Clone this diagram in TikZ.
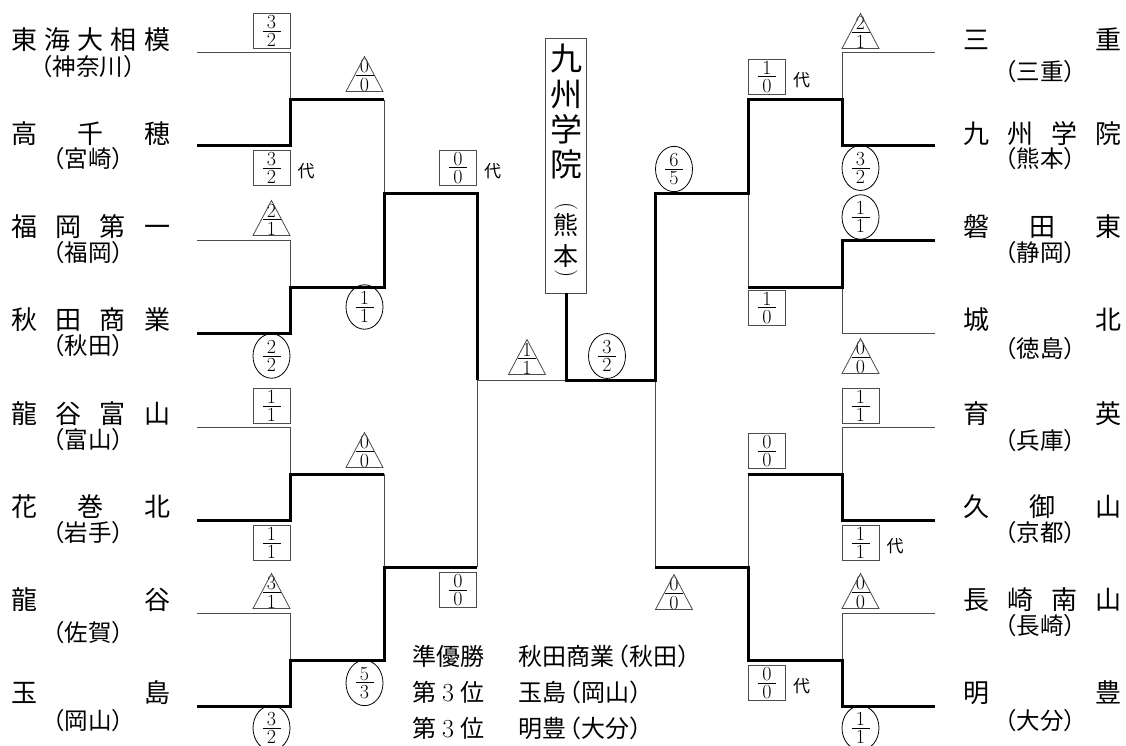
\documentclass[tikz,border=0pt]{standalone}
\usepackage{fontspec}
\usetikzlibrary{shapes.geometric}
\newfontfamily\cjk{Noto Sans CJK JP}
\definecolor{thinc}{gray}{0.3}
\newcommand\lp{\kern-9pt（}
\newcommand\rp{）\kern-9pt}
\newcommand\fracs[2]{\vbox{\hbox to 18pt{\hss#1\hss}\kern2pt\hrule height0.6pt\kern2.4pt\hbox to 18pt{\hss#2\hss}}}
\tikzset{
  thinl/.style={line width=1pt, draw=thinc},
  boldl/.style={line width=3pt, draw=black, line join=miter},
  fr/.style={font=\rmfamily\fontsize{20}{20}\selectfont, inner sep=0pt},
  sqb/.style={draw=thinc, line width=0.8pt, minimum width=37pt, minimum height=35pt, inner sep=0pt},
  cib/.style={draw=black, line width=0.8pt, ellipse, minimum width=37pt, minimum height=35pt, inner sep=0pt},
  daitext/.style={font=\cjk\fontsize{17}{17}\selectfont, inner sep=0pt},
  nm/.style={font=\cjk\fontsize{26}{26}\selectfont, inner sep=0pt, text height=22.9pt, text depth=3.1pt},
  pf/.style={font=\cjk\fontsize{23.5}{23.5}\selectfont, inner sep=0pt, text height=20.7pt, text depth=2.8pt},
  big/.style={font=\cjk\fontsize{32}{32}\selectfont, inner sep=0pt, text height=28.2pt, text depth=3.8pt},
  mid/.style={font=\cjk\fontsize{25}{25}\selectfont, inner sep=0pt, text height=22pt, text depth=3pt},
  vpar/.style={font=\rmfamily\fontsize{23}{23}\selectfont, inner sep=0pt, rotate=-90},
  sm/.style={font=\cjk\fontsize{24}{24}\selectfont, inner sep=0pt, text height=21.1pt, text depth=2.9pt},
}
\newcommand\sqlab[5]{\node[sqb,fr] (#1) at (#2,#3) {\fracs{#4}{#5}};}
\newcommand\cilab[5]{\node[cib,fr] (#1) at (#2,#3) {\fracs{#4}{#5}};}
\newcommand\trilab[5]{\node[fr] (#1) at (#2,#3+1.5) {\fracs{#4}{#5}};
  \draw[thinc,line width=0.8pt] (#2-18.5,#3+17.5) -- (#2,#3-17.5) -- (#2+18.5,#3+17.5) -- cycle;}
\newcommand\dai[1]{\node[daitext,anchor=west] (#1d) at ([xshift=7pt,yshift=-3pt]#1.east) {代};}
\newcommand\spread[5]{%
  \foreach \c [count=\i] in {#5} {\xdef\nch{\i}}%
  \foreach \c [count=\i] in {#5} {%
    \pgfmathsetmacro\xx{#2+(#3-#2)*(\i-1)/(\nch-1)}%
    \node[nm] (#1\i) at (\xx,#4) {\c};}%
}
\begin{document}
\begin{tikzpicture}[x=1pt,y=-1pt]
\fill[white] (0,0) rectangle (1126,746);
\useasboundingbox (0,0) rectangle (1126,746);

% coordinates
\foreach \k/\yy in {1/53,2/146,3/240,4/333,5/427,6/520,7/613,8/706} {
  \coordinate (LT\k) at (197,\yy);
  \coordinate (RT\k) at (935,\yy);
}
\coordinate (LA1) at (290,100);
\coordinate (LA2) at (290,287);
\coordinate (LA3) at (290,474);
\coordinate (LA4) at (290,660);
\coordinate (LB1) at (384,193);
\coordinate (LB2) at (384,567);
\coordinate (LC) at (477,380);
\coordinate (CF) at (566,380);
\coordinate (RC) at (655,380);
\coordinate (RB1) at (748,193);
\coordinate (RB2) at (748,567);
\coordinate (RA1) at (842,100);
\coordinate (RA2) at (842,287);
\coordinate (RA3) at (842,474);
\coordinate (RA4) at (842,660);

% champion box
\node[draw=thinc, line width=0.8pt, minimum width=41pt, minimum height=255pt, inner sep=0pt] (champ) at (566,165.5) {};
\node[big] (c1) at (566,58) {九};
\node[big] (c2) at (566,94) {州};
\node[big] (c3) at (566,129) {学};
\node[big] (c4) at (566,164) {院};
\node[vpar] (c5) at (566,207) {(};
\node[mid] (c6) at (566,225) {熊};
\node[mid] (c7) at (566,256) {本};
\node[vpar] (c8) at (566,274) {)};

% thin lines
\draw[thinl] (LT1) -| (LA1);
\draw[thinl] (LA1 -| LB1) -- (LB1);
\draw[thinl] (LT3) -| (LA2);
\draw[thinl] (LT5) -| (LA3);
\draw[thinl] (LA3 -| LB2) -- (LB2);
\draw[thinl] (LT7) -| (LA4);
\draw[thinl] (LB2 -| LC) -- (LC);
\draw[thinl] (LC) -- (CF);
\draw[thinl] (RA1) -- (RA1 |- RT1) -- (RT1);
\draw[thinl] (RB1) -- (RB1 |- RA2);
\draw[thinl] (RA2) -- (RA2 |- RT4) -- (RT4);
\draw[thinl] (RC) -- (RC |- RB2);
\draw[thinl] (RB2) -- (RB2 |- RA3);
\draw[thinl] (RA3) -- (RA3 |- RT5) -- (RT5);
\draw[thinl] (RA4) -- (RA4 |- RT7) -- (RT7);

% bold lines
\draw[boldl] (LT2) -| (LA1) -- (LA1 -| LB1);
\draw[boldl] (LT4) -| (LA2) -- (LA2 -| LB1) -- (LB1) -- (LB1 -| LC) -- (LC);
\draw[boldl] (LT6) -| (LA3) -- (LA3 -| LB2);
\draw[boldl] (LT8) -| (LA4) -- (LA4 -| LB2) -- (LB2) -- (LB2 -| LC);
\draw[boldl] (champ.south) -- (CF) -- (RC) -- (RC |- RB1) -- (RB1) -- (RB1 |- RA1) -- (RA1) -- (RA1 |- RT2) -- (RT2);
\draw[boldl] (RB1 |- RA2) -- (RA2) -- (RA2 |- RT3) -- (RT3);
\draw[boldl] (RC |- RB2) -- (RB2) -- (RB2 |- RA4) -- (RA4) -- (RA4 |- RT8) -- (RT8);
\draw[boldl] (RB2 |- RA3) -- (RA3) -- (RA3 |- RT6) -- (RT6);

% score labels left
\sqlab{s1}{271.5}{31}{3}{2}
\sqlab{s2}{271.5}{168}{3}{2}\dai{s2}
\trilab{s3}{364.5}{74}{0}{0}
\sqlab{s4}{458}{168}{0}{0}\dai{s4}
\trilab{s5}{271.5}{218}{2}{1}
\cilab{s6}{364.5}{307}{1}{1}
\cilab{s7}{271.5}{356}{2}{2}
\sqlab{s8}{271.5}{406}{1}{1}
\trilab{s9}{364.5}{450}{0}{0}
\sqlab{s10}{271.5}{543}{1}{1}
\trilab{s11}{271.5}{591}{3}{1}
\cilab{s12}{364.5}{683}{5}{3}
\cilab{s13}{271.5}{728}{3}{2}
\sqlab{s14}{458}{590}{0}{0}
\trilab{s15}{527}{357}{1}{1}
\cilab{s16}{607}{356}{3}{2}
% score labels right
\cilab{t1}{674}{169}{6}{5}
\trilab{t2}{674}{592}{0}{0}
\trilab{t3}{860.5}{31}{2}{1}
\sqlab{t4}{767}{77}{1}{0}\dai{t4}
\cilab{t5}{860.5}{168}{3}{2}
\cilab{t6}{860.5}{217}{1}{1}
\sqlab{t7}{767}{308}{1}{0}
\trilab{t8}{860.5}{356}{0}{0}
\sqlab{t9}{860.5}{406}{1}{1}
\sqlab{t10}{767}{451}{0}{0}
\sqlab{t11}{860.5}{543}{1}{1}\dai{t11}
\trilab{t12}{860.5}{591}{0}{0}
\sqlab{t13}{767}{683}{0}{0}\dai{t13}
\cilab{t14}{860.5}{728}{1}{1}

% team names left
\spread{a}{24}{157}{40}{東,海,大,相,模}
\node[pf] (pa) at (88,67) {\lp 神奈川\rp};
\spread{b}{24}{157}{134}{高,千,穂}
\node[pf] (pb) at (88,159) {\lp 宮崎\rp};
\spread{c}{24}{157}{227}{福,岡,第,一}
\node[pf] (pc) at (88,253) {\lp 福岡\rp};
\spread{d}{24}{157}{320}{秋,田,商,業}
\node[pf] (pd) at (88,346) {\lp 秋田\rp};
\spread{e}{24}{157}{414}{龍,谷,富,山}
\node[pf] (pe) at (88,440) {\lp 富山\rp};
\spread{f}{24}{157}{507}{花,巻,北}
\node[pf] (pf) at (88,533) {\lp 岩手\rp};
\spread{g}{24}{157}{600}{龍,谷}
\node[pf] (pg) at (88,633) {\lp 佐賀\rp};
\spread{h}{24}{157}{693}{玉,島}
\node[pf] (ph) at (88,721) {\lp 岡山\rp};

% team names right
\spread{i}{976}{1108}{40}{三,重}
\node[pf] (pi) at (1040,72) {\lp 三重\rp};
\spread{j}{976}{1108}{134}{九,州,学,院}
\node[pf] (pj) at (1040,159) {\lp 熊本\rp};
\spread{k}{976}{1108}{227}{磐,田,東}
\node[pf] (pk) at (1040,253) {\lp 静岡\rp};
\spread{l}{976}{1108}{320}{城,北}
\node[pf] (pl) at (1040,349) {\lp 徳島\rp};
\spread{m}{976}{1108}{414}{育,英}
\node[pf] (pm) at (1040,441) {\lp 兵庫\rp};
\spread{n}{976}{1108}{507}{久,御,山}
\node[pf] (pn) at (1040,533) {\lp 京都\rp};
\spread{o}{976}{1108}{600}{長,崎,南,山}
\node[pf] (po) at (1040,626) {\lp 長崎\rp};
\spread{q}{976}{1108}{693}{明,豊}
\node[pf] (pq) at (1040,721) {\lp 大分\rp};

% results
\node[sm,anchor=west] (r1a) at (412,656) {準優勝};
\node[sm,anchor=west] (r1b) at (518,656) {秋田商業\lp 秋田\rp};
\node[sm,anchor=west] (r2a) at (412,692) {第\hspace{6pt}{\rmfamily\fontsize{26}{26}\selectfont 3}\hspace{6pt}位};
\node[sm,anchor=west] (r2b) at (518,692) {玉島\lp 岡山\rp};
\node[sm,anchor=west] (r3a) at (412,728) {第\hspace{6pt}{\rmfamily\fontsize{26}{26}\selectfont 3}\hspace{6pt}位};
\node[sm,anchor=west] (r3b) at (518,728) {明豊\lp 大分\rp};
\end{tikzpicture}
\end{document}
